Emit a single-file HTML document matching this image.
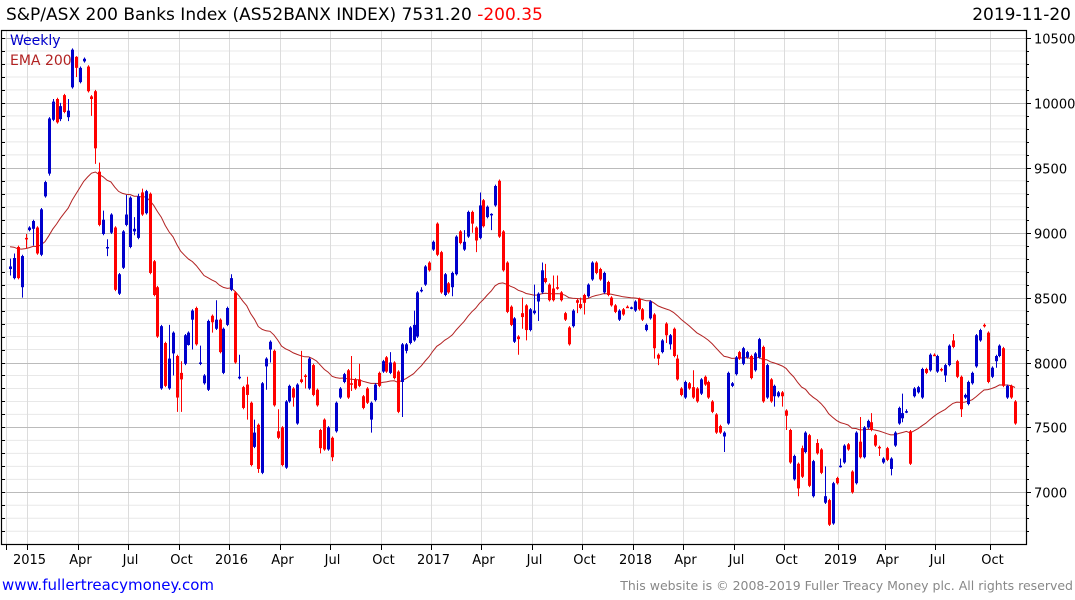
<!DOCTYPE html>
<html><head><meta charset="utf-8">
<style>
html,body{margin:0;padding:0;background:#fff;}
body{width:1075px;height:600px;overflow:hidden;font-family:"DejaVu Sans","Liberation Sans",sans-serif;}
svg{display:block;}
</style></head>
<body>
<svg id="chart" width="1075" height="600" viewBox="0 0 1075 600" xmlns="http://www.w3.org/2000/svg">
<text x="6" y="20" font-size="17" fill="#000" font-family="DejaVu Sans, Liberation Sans, sans-serif">S&amp;P/ASX 200 Banks Index (AS52BANX INDEX) 7531.20 <tspan fill="#ff0000">-200.35</tspan></text>
<text x="1071" y="20" font-size="17" text-anchor="end" fill="#000" font-family="DejaVu Sans, Liberation Sans, sans-serif">2019-11-20</text>
<g id="grid"></g>
<g id="ema"></g>
<g id="bars"></g>
<g id="axes"></g>
<text x="10" y="45" font-size="14" fill="#0000cc">Weekly</text>
<text x="10" y="65" font-size="14" fill="#b22222">EMA 200</text>
<text x="2" y="590" font-size="15" fill="#0000ff">www.fullertreacymoney.com</text>
<text x="1073" y="590" font-size="12.5" text-anchor="end" fill="#888">This website is © 2008-2019 Fuller Treacy Money plc. All rights reserved</text>
</svg>
<script>
const opens=[8720,8650,8890,8580,8960,9020,9030,9040,8830,9280,9455,9870,10030,9875,10060,9890,10120,10355,10160,10320,10280,10050,10090,9470,8990,8880,9000,9040,8530,8730,9060,8890,9010,8960,9310,9150,9300,8780,8580,7800,8150,7800,8070,8050,7920,7990,8135,8330,8420,7990,7840,7790,8360,8260,8330,7920,8290,8560,8540,7880,7810,7830,7690,7350,7520,7150,7970,8100,8090,7470,7500,7190,7700,7800,7530,7870,7900,7800,7980,7790,7480,7560,7330,7420,7470,7730,7850,7940,7840,7870,7870,7740,7800,7560,7710,7920,7930,8040,7920,8000,7930,7850,8090,8150,8170,8200,8550,8600,8770,8870,9070,8850,8520,8610,8580,8680,9010,8870,8970,9160,9040,8960,9250,9120,9140,9210,9400,9010,8770,8430,8160,8200,8380,8440,8250,8380,8470,8540,8650,8600,8570,8580,8540,8380,8270,8280,8480,8450,8520,8510,8640,8770,8720,8540,8620,8500,8440,8330,8410,8430,8420,8400,8490,8410,8250,8340,8370,8060,8080,8300,8140,8260,8030,7800,7730,7840,7810,7800,7760,7890,7850,7700,7600,7510,7430,7530,7820,7910,8080,7990,8040,8050,7940,8040,8120,7730,7870,7740,7740,7770,7630,7480,7100,7220,7340,7310,7440,6970,7380,7330,6920,6940,6760,7110,7200,7230,7370,7160,7070,7390,7270,7500,7540,7440,7350,7230,7340,7180,7360,7530,7570,7620,7470,7740,7770,7730,7950,7940,8060,7930,7950,7900,7980,8170,8010,7890,7730,7680,7840,7970,8170,8290,8230,7890,8010,8050,8110,7730,7820,7700];
const closes=[8740,8805,8650,8820,8950,9040,9090,8840,9180,9390,9880,10010,9850,9975,9930,9940,10410,10270,10270,10340,10090,10030,9650,9060,9100,8890,9140,8560,8680,9010,9140,9270,9030,9280,9140,9320,8690,8520,8200,8280,7820,8030,8230,7730,7870,8210,8230,8400,8140,8000,7900,8320,8310,8330,8080,8260,8420,8650,8000,7890,7650,7750,7210,7460,7180,7840,8030,8160,7670,7420,7210,7700,7820,7730,7830,7850,7890,8030,7750,7670,7340,7330,7500,7270,7690,7800,7910,7730,7830,7800,7820,7650,7690,7690,7830,7820,8010,7930,8000,7880,7620,8140,8140,8270,8290,8540,8560,8740,8710,8930,8830,8540,8680,8540,8690,8970,8920,8930,9160,9070,8940,9210,9050,9200,9145,9360,8970,8710,8390,8290,8340,8180,8350,8250,8410,8400,8530,8710,8620,8480,8480,8570,8480,8330,8140,8400,8460,8420,8460,8600,8770,8690,8640,8690,8520,8440,8390,8400,8370,8425,8425,8470,8410,8330,8290,8470,8110,8030,8170,8210,8210,8050,7870,7750,7850,7800,7730,7700,7870,7830,7730,7620,7460,7460,7460,7920,7840,8040,8030,8110,8080,7880,8070,8180,7700,7980,7700,7820,7770,7740,7590,7230,7280,7030,7120,7460,7050,7240,7300,7150,6970,6750,7070,7070,7205,7360,7330,7000,7460,7270,7500,7550,7480,7360,7345,7260,7250,7260,7460,7650,7610,7625,7220,7800,7810,7950,7920,8060,8055,8050,7940,7980,8130,8120,7890,7640,7750,7850,7920,8210,8250,8285,7850,7960,8050,8130,7820,7820,7730,7530];
const highs=[8800,8840,8900,8830,8990,9050,9100,9050,9190,9400,9890,10030,10040,10000,10070,10030,10420,10360,10280,10350,10290,10060,10100,9540,9170,8950,9150,9050,8690,9020,9290,9280,9120,9300,9340,9330,9310,8790,8590,8290,8160,8290,8240,8060,8010,8220,8240,8410,8430,8130,7910,8330,8370,8480,8340,8270,8430,8680,8550,8060,7820,7890,7700,7560,7530,7850,8040,8170,8100,7640,7510,7710,7830,7810,7840,8090,7910,8040,7990,7800,7490,7570,7510,7430,7700,7810,7920,7950,8050,7880,7990,7750,7810,7700,7840,7930,8020,8050,8080,8010,7940,8150,8150,8280,8400,8550,8580,8750,8780,8940,9080,8860,8690,8620,8700,8980,9020,9020,9170,9170,9050,9310,9260,9210,9150,9370,9410,9020,8780,8440,8350,8210,8500,8450,8420,8600,8540,8770,8760,8610,8670,8670,8550,8390,8280,8410,8490,8500,8530,8610,8780,8780,8730,8700,8630,8510,8450,8410,8420,8440,8430,8480,8500,8420,8300,8480,8380,8070,8180,8310,8220,8270,8060,7810,7860,7850,7940,7810,7880,7900,7860,7710,7610,7520,7470,7930,7850,8050,8090,8120,8090,8060,8080,8190,8130,7990,7880,7830,7780,7780,7640,7490,7290,7230,7360,7470,7450,7250,7410,7340,7200,6950,7080,7120,7260,7370,7380,7170,7470,7580,7510,7560,7610,7450,7360,7270,7350,7270,7470,7660,7760,7640,7480,7810,7820,7960,7960,8070,8070,8060,7960,7990,8140,8220,8020,7900,7760,7860,7930,8220,8260,8300,8240,7970,8060,8140,8120,7830,7830,7710];
const lows=[8670,8640,8640,8500,8880,9010,8900,8830,8820,9270,9440,9860,9840,9860,9920,9860,10110,10200,10150,10310,10080,9900,9530,9050,8980,8820,8990,8550,8520,8720,9050,8880,8980,8950,9130,9140,8680,8510,8190,7790,7810,7790,7900,7620,7620,7980,8130,8100,8130,7980,7830,7780,8230,8250,8070,7910,8280,8550,7990,7870,7640,7560,7200,7340,7150,7140,7790,8000,7660,7410,7200,7180,7690,7660,7520,7840,7800,7790,7740,7660,7300,7320,7320,7240,7460,7720,7840,7720,7780,7790,7810,7640,7680,7460,7700,7810,7920,7920,7910,7870,7610,7580,8070,8140,8160,8190,8540,8590,8700,8860,8820,8530,8510,8530,8510,8670,8910,8860,8960,9000,8850,8950,9040,9110,9020,9200,8960,8700,8380,8280,8150,8060,8260,8170,8240,8370,8320,8530,8610,8470,8470,8560,8470,8320,8130,8270,8380,8410,8370,8500,8630,8680,8630,8530,8510,8430,8380,8320,8360,8420,8410,8390,8400,8320,8240,8330,8030,7980,8070,8150,8100,8040,7860,7740,7720,7790,7720,7690,7750,7820,7720,7610,7450,7450,7310,7520,7810,7900,8020,7980,8030,7870,7930,8030,7690,7720,7690,7660,7730,7660,7480,7220,7090,6970,7110,7300,7040,6960,7290,7140,6910,6740,6750,7060,7190,7220,7320,6990,7060,7260,7260,7490,7470,7350,7280,7220,7240,7130,7350,7520,7540,7610,7210,7730,7760,7720,7910,7930,8050,7920,7930,7850,7970,8110,7880,7580,7720,7670,7830,7960,8160,8270,7840,7880,7960,8040,7810,7720,7720,7520];
const yTicks=[7000,7500,8000,8500,9000,9500,10000,10500];
const xTickLabels=["","2015","Apr","Jul","Oct","2016","Apr","Jul","Oct","2017","Apr","Jul","Oct","2018","Apr","Jul","Oct","2019","Apr","Jul","Oct"];
const xTickWeeks=[-1,4.5,17.5,30.5,43.5,56.5,69.5,82.5,95.5,108.5,121.5,134.5,147.5,160.5,173.5,186.5,199.5,213.5,225.5,238.5,252.5];
const emaPeriod=40, emaSeed=8900;

const NS="http://www.w3.org/2000/svg";
const L=1,R=1026,T=30,B=544;
const X0=10,X1=1015;
const n=closes.length;
function xs(i){return X0+(X1-X0)*i/(n-1);}
function ys(v){return 38+(10500-v)*64.9/500;}
function mk(tag,attrs,parent){const e=document.createElementNS(NS,tag);for(const k in attrs)e.setAttribute(k,attrs[k]);parent.appendChild(e);return e;}
const grid=document.getElementById('grid'),axes=document.getElementById('axes'),barsG=document.getElementById('bars'),emaG=document.getElementById('ema');

// minor horizontal grid
for(let v=6700;v<=10500;v+=100){
  if(v%500===0)continue;
  const y=ys(v); if(y<T||y>B)continue;
  const l=mk('line',{x1:L,x2:R,y1:y,y2:y,stroke:'#e8e8e8','stroke-width':1},grid);
  
  
}
// vertical grid
xTickWeeks.forEach((w,i)=>{
  const x=Math.round(xs(w))+0.5;
  const l=mk('line',{x1:x,x2:x,y1:T,y2:B,stroke:'#dcdcdc','stroke-width':1},grid);
  
  
  const t=mk('line',{x1:x,x2:x,y1:B,y2:B+6,stroke:'#000','stroke-width':1},axes);
  
  
  if(xTickLabels[i]){
    const tx=mk('text',{x:x+2,y:564,'font-size':13,'text-anchor':'middle',fill:'#000'},axes);
    tx.textContent=xTickLabels[i];
    
    
  }
});
// major horizontal grid + labels
yTicks.forEach(v=>{
  const y=Math.round(ys(v))+0.5;
  const l=mk('line',{x1:L,x2:R,y1:y,y2:y,stroke:'#bbbbbb','stroke-width':1},grid);
  
  
  const t=mk('line',{x1:R,x2:R+5,y1:y,y2:y,stroke:'#000','stroke-width':1},axes);
  
  
  const tx=mk('text',{x:1034,y:y+5,'font-size':13,fill:'#000'},axes);
  tx.textContent=String(v);
  
  
});
// minor y ticks
for(let v=6700;v<=10500;v+=100){
  const y=Math.round(ys(v))+0.5; if(y<T||y>B)continue;
  const t1=mk('line',{x1:R,x2:R+3,y1:y,y2:y,stroke:'#000','stroke-width':1},axes);
  
  
  const t2=mk('line',{x1:L,x2:L+4,y1:y,y2:y,stroke:'#000','stroke-width':1},axes);
  
  
}
// frame
const fr=mk('rect',{x:L+0.5,y:T+0.5,width:R-L,height:B-T,fill:'none',stroke:'#000','stroke-width':1.2},axes);



// EMA
let e=emaSeed,pts=[];const a=2/(emaPeriod+1);
for(let i=0;i<n;i++){e=e+a*(closes[i]-e);pts.push(xs(i).toFixed(1)+','+ys(e).toFixed(1));}
const pl=mk('polyline',{points:pts.join(' '),fill:'none',stroke:'#b22222','stroke-width':1},emaG);



// bars
for(let i=0;i<n;i++){
  const up=closes[i]>=opens[i];
  const col=up?'#0000cc':'#ff0000';
  const x=Math.round(xs(i));
  const g=mk('g',{},barsG);
  
  
  mk('line',{x1:x+0.5,x2:x+0.5,y1:ys(highs[i]),y2:ys(lows[i]),stroke:col,'stroke-width':1},g);
  const top=ys(Math.max(opens[i],closes[i])),bot=ys(Math.min(opens[i],closes[i]));
  mk('rect',{x:x-1,y:top,width:3,height:Math.max(1.5,bot-top),fill:col},g);
}
</script>
</body></html>
